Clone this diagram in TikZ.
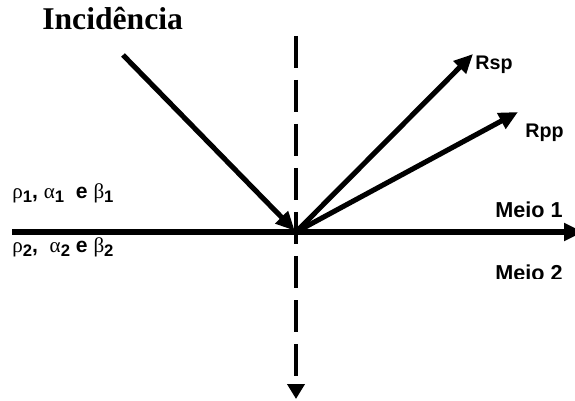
\documentclass[tikz,border=0pt]{standalone}
\usepackage{fontspec}
\setmainfont{Liberation Serif}
\setsansfont{Liberation Sans}
\usetikzlibrary{arrows.meta}

\newcommand{\lowidx}[1]{\raisebox{-0.3ex}{\fontsize{9.5}{10}\selectfont\sffamily\bfseries #1}}
\newcommand{\gr}[1]{{\rmfamily\mdseries #1}}

\begin{document}
\begin{tikzpicture}[
    ray/.style={-{Triangle[length=0.38cm, width=0.34cm]}, line width=2.9pt},
    normal/.style={-{Triangle[length=0.3cm, width=0.34cm]}, line width=2.3pt, dash pattern=on 0.64cm off 0.24cm},
    title/.style={font=\bfseries\fontsize{18}{21}\selectfont, inner sep=0pt},
    medium/.style={font=\sffamily\bfseries\fontsize{12.3}{14}\selectfont, inner sep=0pt},
    wave/.style={font=\sffamily\bfseries\fontsize{11.2}{13}\selectfont, inner sep=0pt},
    props/.style={font=\sffamily\bfseries\fontsize{12}{14}\selectfont, inner sep=0pt},
]
\useasboundingbox (0,0) rectangle (11.5,8);

% Define points of the rays
\coordinate (O) at (5.92,3.36);
\coordinate (inc) at (2.46,6.9);
\coordinate (sp) at (9.46,6.92);
\coordinate (pp) at (10.36,5.76);
\coordinate (west) at (0.24,3.36);
\coordinate (east) at (11.66,3.36);
\coordinate (top) at (5.92,7.28);
\coordinate (bottom) at (5.92,0.02);

% Labels
\node[title, anchor=base west] (incl) at (0.84,7.4) {Incidência};
\node[wave, anchor=base west] (rsp) at (9.5,6.6) {Rsp};
\node[wave, anchor=base west] (rpp) at (10.5,5.24) {Rpp};
\node[medium, anchor=base east] (m1) at (11.26,3.64) {Meio 1};
\begin{scope}
\clip (0,2.42) rectangle (11.5,8);
\node[medium, anchor=base east] (m2) at (11.26,2.38) {Meio 2};
\end{scope}
\node[props, anchor=base west] (p1) at (0.24,4.02) {\gr{ρ}\lowidx{1}, \gr{α}\lowidx{1}\ \ e \gr{β}\lowidx{1}};
\node[props, anchor=base west] (p2) at (0.24,2.94) {\gr{ρ}\lowidx{2},\ \ \gr{α}\lowidx{2} e \gr{β}\lowidx{2}};

% Normal and interface
\draw[normal] (top) -- (bottom);
\draw[ray] (west) -- (east);

% Incident and reflected rays
\draw[ray, shorten >=1pt] (inc) -- (O);
\draw[ray] (O) -- (sp);
\draw[ray] (O) -- (pp);

\end{tikzpicture}
\end{document}
